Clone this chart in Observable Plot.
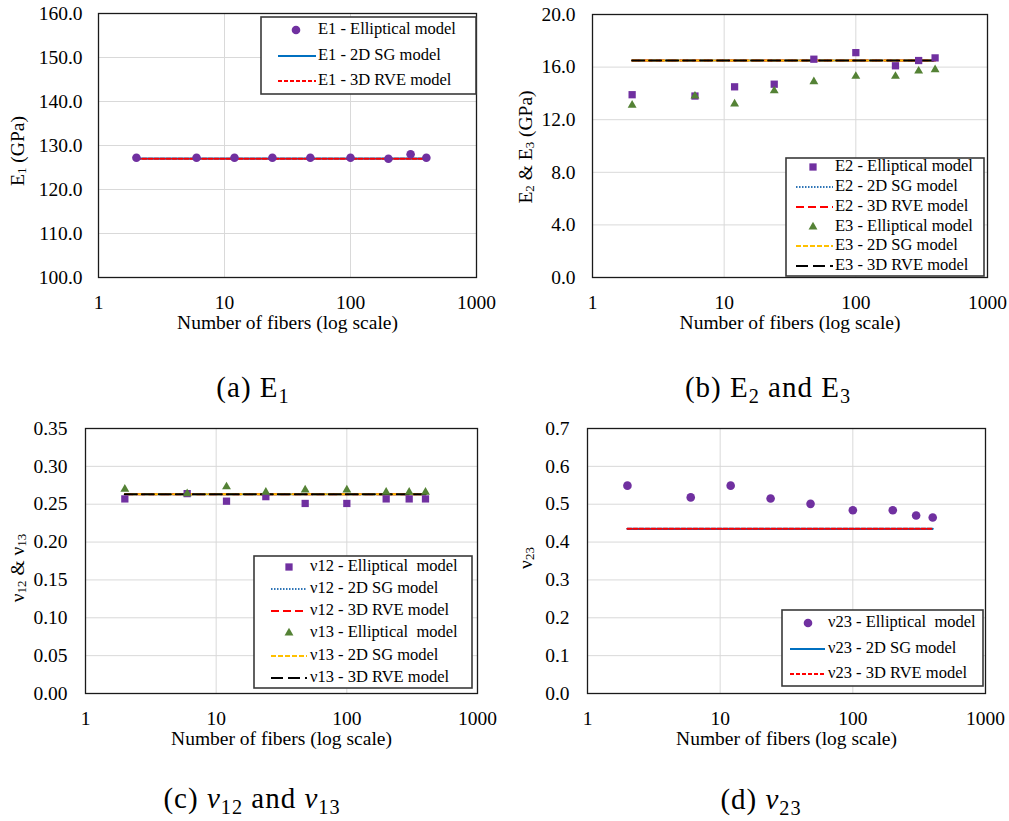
<!DOCTYPE html>
<html><head><meta charset="utf-8">
<script src="https://cdn.jsdelivr.net/npm/d3@7"></script>
<script src="https://cdn.jsdelivr.net/npm/@observablehq/plot@0.6"></script>
<style>
body{margin:0;background:#fff;}
#root{position:relative;width:1009px;height:821px;overflow:hidden;background:#fff;}
.panel{position:absolute;}
.cap{position:absolute;font-family:"Liberation Serif",serif;font-size:29px;line-height:29px;letter-spacing:1px;color:#000;white-space:nowrap;transform:translateX(-50%);}
.cap sub{font-size:0.7em;vertical-align:-0.28em;line-height:0;}
</style></head><body><div id="root"></div>
<script>
// ---- data ----
const fibers = [2, 6, 12, 24, 48, 100, 200, 300, 400];
const xTicks = [1, 10, 100, 1000];

// (a) E1 (GPa)
const e1Ticks = [100, 110, 120, 130, 140, 150, 160];
const e1Elliptical = [127.2, 127.2, 127.2, 127.2, 127.2, 127.2, 127.0, 128.0, 127.2];
const e1SG  = [127.0, 127.0, 127.0, 127.0, 127.0, 127.0, 127.0, 127.0, 127.0];
const e1RVE = [127.0, 127.0, 127.0, 127.0, 127.0, 127.0, 127.0, 127.0, 127.0];

// (b) E2 & E3 (GPa)
const e23Ticks = [0, 4, 8, 12, 16, 20];
const e2Elliptical = [13.9, 13.8, 14.5, 14.7, 16.6, 17.1, 16.1, 16.5, 16.7];
const e2SG  = [16.5, 16.5, 16.5, 16.5, 16.5, 16.5, 16.5, 16.5, 16.5];
const e2RVE = [16.5, 16.5, 16.5, 16.5, 16.5, 16.5, 16.5, 16.5, 16.5];
const e3Elliptical = [13.1, 13.8, 13.2, 14.2, 14.9, 15.3, 15.3, 15.7, 15.8];
const e3SG  = [16.5, 16.5, 16.5, 16.5, 16.5, 16.5, 16.5, 16.5, 16.5];
const e3RVE = [16.5, 16.5, 16.5, 16.5, 16.5, 16.5, 16.5, 16.5, 16.5];

// (c) nu12 & nu13
const nu1Ticks = [0, 0.05, 0.10, 0.15, 0.20, 0.25, 0.30, 0.35];
const nu12Elliptical = [0.257, 0.264, 0.254, 0.260, 0.251, 0.251, 0.257, 0.257, 0.257];
const nu12SG  = [0.263, 0.263, 0.263, 0.263, 0.263, 0.263, 0.263, 0.263, 0.263];
const nu12RVE = [0.263, 0.263, 0.263, 0.263, 0.263, 0.263, 0.263, 0.263, 0.263];
const nu13Elliptical = [0.270, 0.264, 0.273, 0.266, 0.269, 0.269, 0.266, 0.266, 0.266];
const nu13SG  = [0.263, 0.263, 0.263, 0.263, 0.263, 0.263, 0.263, 0.263, 0.263];
const nu13RVE = [0.263, 0.263, 0.263, 0.263, 0.263, 0.263, 0.263, 0.263, 0.263];

// (d) nu23
const nu23Ticks = [0, 0.1, 0.2, 0.3, 0.4, 0.5, 0.6, 0.7];
const nu23Elliptical = [0.549, 0.518, 0.549, 0.515, 0.501, 0.484, 0.484, 0.470, 0.465];
const nu23SG  = [0.435, 0.435, 0.435, 0.435, 0.435, 0.435, 0.435, 0.435, 0.435];
const nu23RVE = [0.435, 0.435, 0.435, 0.435, 0.435, 0.435, 0.435, 0.435, 0.435];

// ---- styles ----
const FONT = '"Liberation Serif", "Times New Roman", serif';
const PURPLE = "#7030a0", GREEN = "#548235", BLUE = "#0070c0", LBLUE = "#2e75b6", RED = "#ff0000", YELLOW = "#ffc000";
const AXFS = 19.5, LEGFS = 16.5;

const root = document.getElementById("root");

function makePanel(cfg) {
  const [x0, y0, x1, y1] = cfg.frame;
  const marks = [
    Plot.gridX(xTicks, {stroke: "#d9d9d9", strokeOpacity: 1, strokeWidth: 1}),
    Plot.gridY(cfg.yTicks, {stroke: "#d9d9d9", strokeOpacity: 1, strokeWidth: 1}),
    Plot.axisX(xTicks, {tickSize: 0, tickPadding: 18, tickFormat: d => String(d), fontSize: AXFS, fontFamily: FONT,
      label: "Number of fibers (log scale)", labelAnchor: "center", labelOffset: 51, labelArrow: "none"}),
    Plot.axisY(cfg.yTicks, {tickSize: 0, tickPadding: cfg.yPad, tickFormat: cfg.yFormat, fontSize: AXFS, fontFamily: FONT, label: null})
  ];
  for (const l of cfg.lines) {
    marks.push(Plot.line(l.values, {x: fibers, y: d => d, stroke: l.color, strokeWidth: l.width, strokeDasharray: l.dash}));
  }
  for (const p of cfg.dots) {
    marks.push(Plot.dot(p.values, {x: fibers, y: d => d, symbol: p.symbol, r: p.r, fill: p.color, stroke: "none"}));
  }
  marks.push(Plot.frame({stroke: "#1a1a1a", strokeWidth: 1.3}));

  const plot = Plot.plot({
    width: cfg.width, height: cfg.height,
    marginLeft: x0, marginTop: y0, marginRight: cfg.width - x1, marginBottom: cfg.height - y1,
    style: {fontFamily: FONT, fontSize: AXFS + "px", color: "#000", background: "transparent", overflow: "visible"},
    x: {type: "log", domain: [1, 1000]},
    y: {domain: cfg.yDomain},
    marks
  });
  plot.classList.add("panel");
  plot.style.left = cfg.left + "px";
  plot.style.top = cfg.top + "px";
  root.appendChild(plot);

  const svg = d3.select(plot);
  // y axis label with subscripts
  const t = svg.append("text")
    .attr("transform", `translate(${cfg.ylabelPos[0]},${cfg.ylabelPos[1]}) rotate(-90)`)
    .attr("text-anchor", "middle").attr("dominant-baseline", "middle")
    .style("font-family", FONT).style("font-size", AXFS + "px").attr("fill", "#000");
  for (const [s, sub] of cfg.ylabel) {
    const ts = t.append("tspan").text(s);
    if (sub) ts.style("font-size", "13px").attr("baseline-shift", "-25%");
  }
  // legend
  const L = cfg.legend;
  const g = svg.append("g");
  g.append("rect").attr("x", L.box[0]).attr("y", L.box[1])
    .attr("width", L.box[2] - L.box[0]).attr("height", L.box[3] - L.box[1])
    .attr("fill", "#fff").attr("stroke", "#3a3a3a").attr("stroke-width", 1.6);
  L.items.forEach((it, i) => {
    const y = L.rows[i];
    if (it.kind === "line") {
      g.append("line").attr("x1", L.line[0]).attr("x2", L.line[1]).attr("y1", y).attr("y2", y)
        .attr("stroke", it.color).attr("stroke-width", it.width).attr("stroke-dasharray", it.dash || null);
    } else {
      const sym = it.symbol === "square" ? d3.symbolSquare : it.symbol === "triangle" ? d3.symbolTriangle : d3.symbolCircle;
      g.append("path").attr("transform", `translate(${L.marker},${y})`)
        .attr("d", d3.symbol(sym, Math.PI * it.r * it.r)()).attr("fill", it.color);
    }
    g.append("text").attr("x", L.text).attr("y", y).attr("dominant-baseline", "middle")
      .attr("text-anchor", "start")
      .style("font-family", FONT).style("font-size", LEGFS + "px").attr("fill", "#000")
      .style("white-space", "pre").text(it.label);
  });
}

// (a)
makePanel({
  left: 0, top: 0, width: 500, height: 340, frame: [98, 13, 476, 277],
  yDomain: [100, 160], yTicks: e1Ticks, yFormat: d => d.toFixed(1), yPad: 16,
  lines: [
    {values: e1SG, color: BLUE, width: 2.2},
    {values: e1RVE, color: RED, width: 2, dash: "4,2"}
  ],
  dots: [{values: e1Elliptical, symbol: "circle", r: 4.3, color: PURPLE}],
  ylabelPos: [20, 151], ylabel: [["E"], ["1", true], [" (GPa)"]],
  legend: {box: [261, 17, 476, 94], rows: [30, 56, 81], line: [278, 316], marker: 296, text: 318,
    items: [
      {kind: "dot", symbol: "circle", r: 4.3, color: PURPLE, label: "E1 - Elliptical model"},
      {kind: "line", color: BLUE, width: 2.2, label: "E1 - 2D SG model"},
      {kind: "line", color: RED, width: 2, dash: "4,2", label: "E1 - 3D RVE model"}
    ]}
});

// (b)
makePanel({
  left: 500, top: 0, width: 509, height: 340, frame: [92, 14, 487, 277],
  yDomain: [0, 20], yTicks: e23Ticks, yFormat: d => d.toFixed(1), yPad: 17,
  lines: [
    {values: e2SG, color: LBLUE, width: 2, dash: "1.5,1.5"},
    {values: e2RVE, color: RED, width: 2, dash: "8,4"},
    {values: e3SG, color: YELLOW, width: 2, dash: "5,2"},
    {values: e3RVE, color: "#000", width: 2, dash: "12,5"}
  ],
  dots: [
    {values: e2Elliptical, symbol: "square", r: 4.1, color: PURPLE},
    {values: e3Elliptical, symbol: "triangle", r: 3.3, color: GREEN}
  ],
  ylabelPos: [28, 147], ylabel: [["E"], ["2", true], [" & E"], ["3", true], [" (GPa)"]],
  legend: {box: [286, 158, 484, 276], rows: [167, 187, 207, 227, 246, 266], line: [296, 333], marker: 313, text: 335,
    items: [
      {kind: "dot", symbol: "square", r: 4.1, color: PURPLE, label: "E2 - Elliptical model"},
      {kind: "line", color: LBLUE, width: 2, dash: "1.5,1.5", label: "E2 - 2D SG model"},
      {kind: "line", color: RED, width: 2, dash: "8,4", label: "E2 - 3D RVE model"},
      {kind: "dot", symbol: "triangle", r: 3.3, color: GREEN, label: "E3 - Elliptical model"},
      {kind: "line", color: YELLOW, width: 2, dash: "5,2", label: "E3 - 2D SG model"},
      {kind: "line", color: "#000", width: 2, dash: "12,5", label: "E3 - 3D RVE model"}
    ]}
});

// (c)
makePanel({
  left: 0, top: 410, width: 500, height: 340, frame: [85, 18, 477, 283],
  yDomain: [0, 0.35], yTicks: nu1Ticks, yFormat: d => d.toFixed(2), yPad: 18,
  lines: [
    {values: nu12SG, color: LBLUE, width: 2, dash: "1.5,1.5"},
    {values: nu12RVE, color: RED, width: 2, dash: "8,4"},
    {values: nu13SG, color: YELLOW, width: 2, dash: "5,2"},
    {values: nu13RVE, color: "#000", width: 2, dash: "12,5"}
  ],
  dots: [
    {values: nu12Elliptical, symbol: "square", r: 4.1, color: PURPLE},
    {values: nu13Elliptical, symbol: "triangle", r: 3.3, color: GREEN}
  ],
  ylabelPos: [20, 158], ylabel: [["ν"], ["12", true], [" & ν"], ["13", true]],
  legend: {box: [254, 146, 472, 278], rows: [157, 179, 201, 223, 246, 268], line: [271, 307], marker: 289, text: 310,
    items: [
      {kind: "dot", symbol: "square", r: 4.1, color: PURPLE, label: "ν12 - Elliptical  model"},
      {kind: "line", color: LBLUE, width: 2, dash: "1.5,1.5", label: "ν12 - 2D SG model"},
      {kind: "line", color: RED, width: 2, dash: "8,4", label: "ν12 - 3D RVE model"},
      {kind: "dot", symbol: "triangle", r: 3.3, color: GREEN, label: "ν13 - Elliptical  model"},
      {kind: "line", color: YELLOW, width: 2, dash: "5,2", label: "ν13 - 2D SG model"},
      {kind: "line", color: "#000", width: 2, dash: "12,5", label: "ν13 - 3D RVE model"}
    ]}
});

// (d)
makePanel({
  left: 500, top: 410, width: 509, height: 340, frame: [87, 18, 485, 283],
  yDomain: [0, 0.7], yTicks: nu23Ticks, yFormat: d => d.toFixed(1), yPad: 18,
  lines: [
    {values: nu23SG, color: BLUE, width: 2.2},
    {values: nu23RVE, color: RED, width: 2, dash: "4,2"}
  ],
  dots: [{values: nu23Elliptical, symbol: "circle", r: 4.3, color: PURPLE}],
  ylabelPos: [28, 148], ylabel: [["ν"], ["23", true]],
  legend: {box: [282, 200, 483, 276], rows: [213, 239, 264], line: [290, 325], marker: 308, text: 328,
    items: [
      {kind: "dot", symbol: "circle", r: 4.3, color: PURPLE, label: "ν23 - Elliptical  model"},
      {kind: "line", color: BLUE, width: 2.2, label: "ν23 - 2D SG model"},
      {kind: "line", color: RED, width: 2, dash: "4,2", label: "ν23 - 3D RVE model"}
    ]}
});

// captions
const captions = [
  {x: 253, y: 373, html: "(a) E<sub>1</sub>"},
  {x: 768, y: 373, html: "(b) E<sub>2</sub> and E<sub>3</sub>"},
  {x: 252, y: 784, html: "(c) <i>ν</i><sub>12</sub> and <i>ν</i><sub>13</sub>"},
  {x: 761, y: 785, html: "(d) <i>ν</i><sub>23</sub>"}
];
for (const c of captions) {
  const d = document.createElement("div");
  d.className = "cap";
  d.style.left = c.x + "px";
  d.style.top = c.y + "px";
  d.innerHTML = c.html;
  root.appendChild(d);
}
</script></body></html>
